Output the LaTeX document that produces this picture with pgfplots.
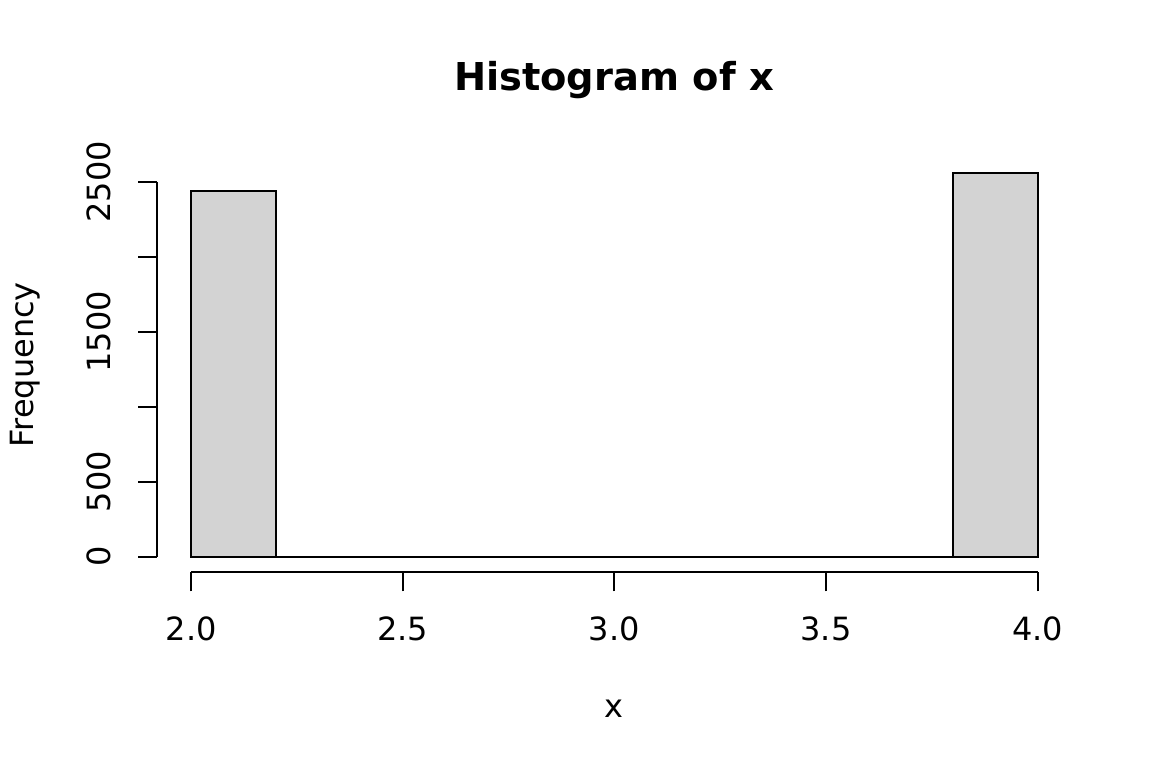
\documentclass[border=0pt]{standalone}
\usepackage{pgfplots}
\pgfplotsset{compat=1.18}
\usepackage{fontspec}
\setmainfont{DejaVu Sans}
\definecolor{rgray}{RGB}{211,211,211}
\begin{document}
\fontsize{12pt}{14pt}\selectfont
\begin{tikzpicture}
\useasboundingbox (0,0) rectangle (432pt,288pt);
\begin{axis}[
  at={(59.04pt,73.44pt)}, anchor=south west,
  scale only axis, width=342.72pt, height=155.52pt,
  xmin=1.92, xmax=4.08, ymin=-102.4, ymax=2662.4,
  axis x line*=bottom, axis y line*=left,
  axis line style={draw=none},
  xtick={2,2.5,3,3.5,4}, xticklabels={2.0,2.5,3.0,3.5,4.0},
  ytick={0,500,1000,1500,2000,2500}, yticklabels={0,500,,1500,,2500},
  tick align=outside, major tick length=7.2pt,
  tick style={black, line width=0.75pt},
  xticklabel style={anchor=base, yshift=-18.3pt, inner sep=0pt},
  yticklabel style={xshift=-10.4pt, rotate=90, anchor=base, inner sep=0pt},
  clip=false,
]
\addplot[ybar interval, fill=rgray, draw=black, line width=0.75pt] coordinates {
 (2.0,2440) (2.2,0) (2.4,0) (2.6,0) (2.8,0) (3.0,0) (3.2,0) (3.4,0) (3.6,0) (3.8,2560) (4.0,2560)
};
\draw[line width=0.75pt] (axis cs:2,-102.4) -- (axis cs:4,-102.4);
\draw[line width=0.75pt] (axis cs:1.92,0) -- (axis cs:1.92,2500);
\end{axis}
\node[anchor=base, inner sep=0pt, font=\fontsize{14.4pt}{17pt}\selectfont\bfseries] at (230.25pt,253.9pt) {Histogram of x};
\node[anchor=base, inner sep=0pt] at (230.25pt,18.75pt) {x};
\node[rotate=90, anchor=base, inner sep=0pt] at (12.5pt,151.2pt) {Frequency};
\end{tikzpicture}
\end{document}
